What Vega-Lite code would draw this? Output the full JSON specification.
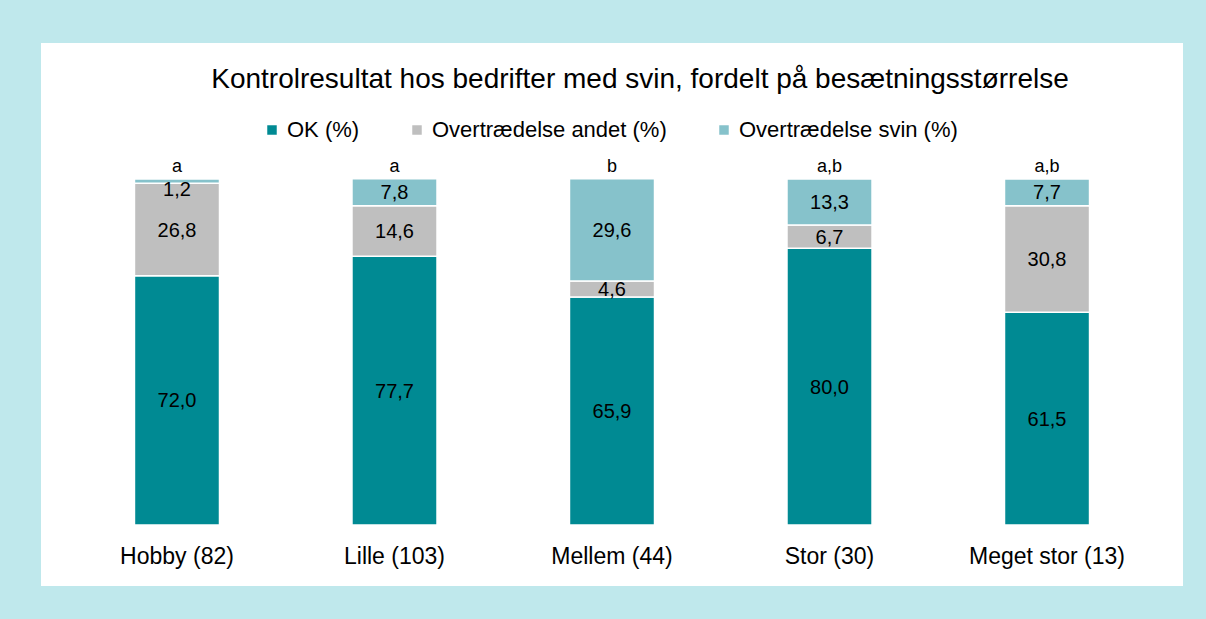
{
  "$schema": "https://vega.github.io/schema/vega-lite/v6.json",
  "autosize": {"type": "none"},
  "padding": {"left": 7, "top": 9, "right": 0, "bottom": 0},
  "width": 1210,
  "height": 611,
  "background": "white",
  "config": {
    "view": {"fill": "white", "stroke": "#bfe8ec", "strokeWidth": 68},
    "font": "Liberation Sans"
  },
  "title": {
    "text": "Kontrolresultat hos bedrifter med svin, fordelt på besætningsstørrelse",
    "font": "Liberation Sans",
    "fontSize": 28,
    "fontWeight": "normal",
    "color": "black",
    "anchor": "middle",
    "baseline": "alphabetic",
    "dx": 28,
    "offset": -107
  },
  "datasets": {
    "bars": [
      {"kat": "Hobby (82)", "serie": "OK (%)", "ord": 1, "v": 72.0, "lbl": "72,0"},
      {"kat": "Hobby (82)", "serie": "Overtrædelse andet (%)", "ord": 2, "v": 26.8, "lbl": "26,8"},
      {"kat": "Hobby (82)", "serie": "Overtrædelse svin (%)", "ord": 3, "v": 1.2, "lbl": "1,2"},
      {"kat": "Lille (103)", "serie": "OK (%)", "ord": 1, "v": 77.7, "lbl": "77,7"},
      {"kat": "Lille (103)", "serie": "Overtrædelse andet (%)", "ord": 2, "v": 14.6, "lbl": "14,6"},
      {"kat": "Lille (103)", "serie": "Overtrædelse svin (%)", "ord": 3, "v": 7.8, "lbl": "7,8"},
      {"kat": "Mellem (44)", "serie": "OK (%)", "ord": 1, "v": 65.9, "lbl": "65,9"},
      {"kat": "Mellem (44)", "serie": "Overtrædelse andet (%)", "ord": 2, "v": 4.6, "lbl": "4,6"},
      {"kat": "Mellem (44)", "serie": "Overtrædelse svin (%)", "ord": 3, "v": 29.6, "lbl": "29,6"},
      {"kat": "Stor (30)", "serie": "OK (%)", "ord": 1, "v": 80.0, "lbl": "80,0"},
      {"kat": "Stor (30)", "serie": "Overtrædelse andet (%)", "ord": 2, "v": 6.7, "lbl": "6,7"},
      {"kat": "Stor (30)", "serie": "Overtrædelse svin (%)", "ord": 3, "v": 13.3, "lbl": "13,3"},
      {"kat": "Meget stor (13)", "serie": "OK (%)", "ord": 1, "v": 61.5, "lbl": "61,5"},
      {"kat": "Meget stor (13)", "serie": "Overtrædelse andet (%)", "ord": 2, "v": 30.8, "lbl": "30,8"},
      {"kat": "Meget stor (13)", "serie": "Overtrædelse svin (%)", "ord": 3, "v": 7.7, "lbl": "7,7"}
    ],
    "letters": [
      {"kat": "Hobby (82)", "top": 100, "bog": "a"},
      {"kat": "Lille (103)", "top": 100, "bog": "a"},
      {"kat": "Mellem (44)", "top": 100, "bog": "b"},
      {"kat": "Stor (30)", "top": 100, "bog": "a,b"},
      {"kat": "Meget stor (13)", "top": 100, "bog": "a,b"}
    ]
  },
  "encoding": {
    "x": {
      "field": "kat",
      "type": "nominal",
      "sort": null,
      "scale": {"paddingInner": 0.609, "paddingOuter": 0.586},
      "axis": {
        "title": null,
        "orient": "bottom",
        "offset": -95,
        "domain": false,
        "ticks": false,
        "labelAngle": 0,
        "labelFontSize": 23,
        "labelColor": "black",
        "labelPadding": 20,
        "labelBaseline": "top"
      }
    }
  },
  "layer": [
    {
      "data": {"name": "bars"},
      "mark": {"type": "bar", "stroke": "white", "strokeWidth": 1.5},
      "encoding": {
        "y": {
          "field": "v",
          "type": "quantitative",
          "stack": "zero",
          "scale": {"domain": [-27.46, 149.13], "nice": false, "zero": false},
          "axis": null
        },
        "color": {
          "field": "serie",
          "type": "nominal",
          "scale": {
            "domain": ["OK (%)", "Overtrædelse andet (%)", "Overtrædelse svin (%)"],
            "range": ["#008a93", "#bfbfbf", "#86c2cb"]
          },
          "legend": {
            "title": null,
            "orient": "none",
            "legendX": 254,
            "legendY": 110,
            "direction": "horizontal",
            "symbolType": "square",
            "symbolSize": 90,
            "symbolStrokeWidth": 0,
            "labelFontSize": 22,
            "labelLimit": 500,
            "labelColor": "black",
            "labelOffset": 4,
            "columnPadding": 46
          }
        },
        "order": {"field": "ord", "type": "quantitative"}
      }
    },
    {
      "data": {"name": "bars"},
      "transform": [{"filter": "datum.v >= 2"}],
      "mark": {"type": "text", "fontSize": 20, "color": "black", "baseline": "middle", "dy": 1},
      "encoding": {
        "y": {"field": "v", "type": "quantitative", "stack": "zero", "bandPosition": 0.5},
        "detail": {"field": "serie"},
        "order": {"field": "ord", "type": "quantitative"},
        "text": {"field": "lbl"}
      }
    },
    {
      "data": {"name": "bars"},
      "transform": [
        {"stack": "v", "groupby": ["kat"], "sort": [{"field": "ord", "order": "ascending"}], "as": ["s0", "s1"]},
        {"filter": "datum.v < 2"}
      ],
      "mark": {"type": "text", "fontSize": 20, "color": "black", "baseline": "middle", "dy": 11},
      "encoding": {
        "y": {"field": "s1", "type": "quantitative"},
        "text": {"field": "lbl"}
      }
    },
    {
      "data": {"name": "letters"},
      "mark": {"type": "text", "fontSize": 18, "color": "black", "baseline": "alphabetic", "dy": -7},
      "encoding": {
        "y": {"field": "top", "type": "quantitative"},
        "text": {"field": "bog"}
      }
    }
  ]
}
